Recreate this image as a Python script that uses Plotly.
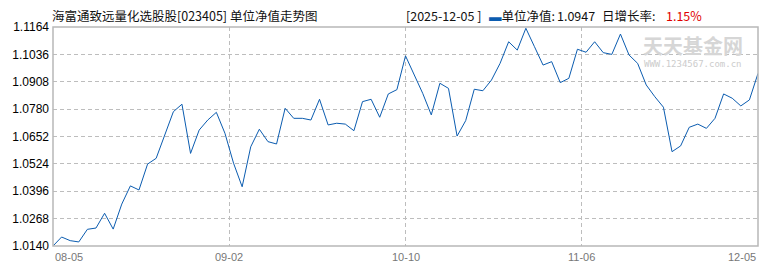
import plotly.graph_objects as go

# ---- data ----
nav = [
    1.0140, 1.0182, 1.0165, 1.0159, 1.0218, 1.0224, 1.0293, 1.0219, 1.0336, 1.0421,
    1.0402, 1.0523, 1.0550, 1.0659, 1.0768, 1.0803, 1.0573, 1.0682, 1.0729, 1.0765,
    1.0667, 1.0527, 1.0417, 1.0604, 1.0686, 1.0628, 1.0617, 1.0784, 1.0737, 1.0737,
    1.0729, 1.0826, 1.0706, 1.0714, 1.0710, 1.0679, 1.0815, 1.0826, 1.0742, 1.0851,
    1.0871, 1.1029, 1.0940, 1.0854, 1.0753, 1.0901, 1.0877, 1.0654, 1.0726, 1.0873,
    1.0866, 1.0916, 1.0994, 1.1095, 1.1056, 1.1158, 1.1072, 1.0986, 1.1002, 1.0904,
    1.0924, 1.1060, 1.1046, 1.1095, 1.1044, 1.1036, 1.1131, 1.1033, 1.0994, 1.0893,
    1.0838, 1.0789, 1.0581, 1.0608, 1.0695, 1.0710, 1.0690, 1.0737, 1.0851, 1.0831,
    1.0795, 1.0823, 1.0947,
]
x_labels = ["08-05", "09-02", "10-10", "11-06", "12-05"]
y_ticks = [1.0140, 1.0268, 1.0396, 1.0524, 1.0652, 1.0780, 1.0908, 1.1036, 1.1164]
title_text = "海富通致远量化选股股[023405] 单位净值走势图"
latest_date = "2025-12-05"
latest_nav = "1.0947"
latest_growth = "1.15%"

n = len(nav)
xs = list(range(n))
x_tickvals = [(n - 1) * k / 4 for k in range(len(x_labels))]

W, H = 770, 270
L, R, T, B = 53, 12, 27, 24
pw = W - L - R
ph = H - T - B


def px_x(p):
    return (p - L) / pw


def px_y(p):
    return (H - B - p) / ph


fig = go.Figure()
fig.add_trace(go.Scatter(
    x=xs, y=nav, mode="lines",
    line=dict(color="#0b5cb0", width=1),
    hoverinfo="skip", showlegend=False,
))

grid = dict(showgrid=True, gridcolor="#bdbdbd", griddash="4px,3px", gridwidth=1)

fig.update_layout(
    width=W, height=H,
    margin=dict(l=L, r=R, t=T, b=B),
    paper_bgcolor="white", plot_bgcolor="white",
    xaxis=dict(range=[0, n - 1], tickvals=x_tickvals, showticklabels=False,
               zeroline=False, showline=False, ticks="", **grid),
    yaxis=dict(range=[y_ticks[0], y_ticks[-1]], tickvals=y_ticks,
               ticktext=[f"{v:.4f}" for v in y_ticks],
               tickfont=dict(family="Liberation Sans, Arial", size=12, color="#000"),
               ticks="", ticklabelstandoff=3, zeroline=False, showline=False, **grid),
    font=dict(family="Noto Sans CJK SC"),
)

# frame
fig.add_shape(type="rect", xref="paper", yref="paper", x0=0, y0=0, x1=1, y1=1,
              line=dict(color="#b8b8b8", width=1.5), layer="above")

ann = []
# x labels
for i, (tv, lab) in enumerate(zip(x_tickvals, x_labels)):
    anchor = "left" if i == 0 else ("right" if i == len(x_labels) - 1 else "center")
    ann.append(dict(x=tv, y=px_y(257), xref="x", yref="paper", text=lab,
                    showarrow=False, xanchor=anchor, yanchor="middle",
                    font=dict(family="Liberation Sans Narrow, Liberation Sans", size=11, color="#777")))

hdr_font = dict(family="Noto Sans CJK SC", size=12.5, color="#111")


def hdr(px, text, color=None):
    f = dict(hdr_font)
    if color:
        f["color"] = color
    ann.append(dict(x=px_x(px), y=px_y(15), xref="paper", yref="paper", text=text,
                    showarrow=False, xanchor="left", yanchor="middle", font=f))


hdr(50, title_text)
hdr(404, f"[{latest_date} ]")
hdr(487, "<span style='color:#0b5cb0'>▬</span>单位净值:")
hdr(555, latest_nav)
hdr(600, "日增长率:")
hdr(664, latest_growth, "#e00000")

# watermark
ann.append(dict(x=px_x(693), y=px_y(45), xref="paper", yref="paper",
                text="<b>天天基金网</b>", showarrow=False, xanchor="center", yanchor="middle",
                font=dict(family="Noto Sans CJK SC", size=20, color="#d6d6d6")))
ann.append(dict(x=px_x(693), y=px_y(64), xref="paper", yref="paper",
                text="WWW.1234567.com.cn", showarrow=False, xanchor="center", yanchor="middle",
                font=dict(family="DejaVu Sans Mono", size=9, color="#cccccc")))

fig.update_layout(annotations=ann)
fig.write_html("out.html")
